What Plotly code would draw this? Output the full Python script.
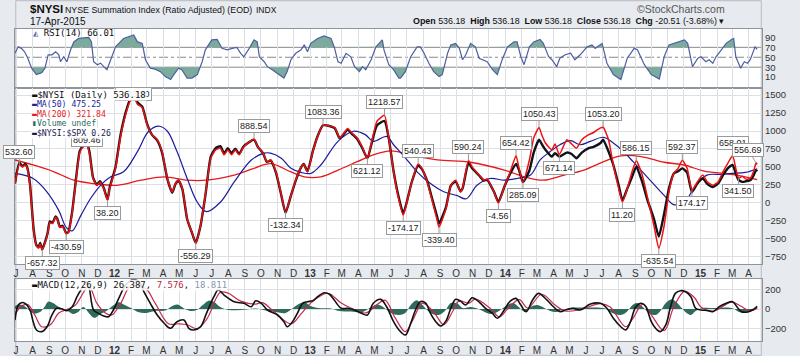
import plotly.graph_objects as go
import pandas as pd

# ---------------- DATA ----------------
nysi_dates = [
 "2011-06-29","2011-07-07","2011-07-13","2011-07-18","2011-07-22","2011-07-27","2011-08-03","2011-08-08","2011-08-12","2011-08-15",
 "2011-08-19","2011-08-24","2011-08-29","2011-09-02","2011-09-07","2011-09-13","2011-09-16","2011-09-21","2011-09-26","2011-10-03",
 "2011-10-07","2011-10-14","2011-10-20","2011-10-28","2011-11-04","2011-11-10","2011-11-15","2011-11-22","2011-11-29","2011-12-05",
 "2011-12-12","2011-12-19","2011-12-23","2012-01-03","2012-01-12","2012-01-22","2012-02-01","2012-02-06","2012-02-13","2012-02-22",
 "2012-03-02","2012-03-11","2012-03-21","2012-03-30","2012-04-09","2012-04-18","2012-04-24","2012-04-30","2012-05-07","2012-05-16",
 "2012-05-25","2012-06-01","2012-06-10","2012-06-19","2012-06-29","2012-07-08","2012-07-17","2012-07-24","2012-07-31","2012-08-07",
 "2012-08-14","2012-08-21","2012-08-30","2012-09-18","2012-09-25","2012-10-05","2012-10-12","2012-10-19","2012-10-29","2012-11-07",
 "2012-11-16","2012-11-26","2012-12-05","2012-12-14","2012-12-20","2012-12-27","2013-01-06","2013-01-15","2013-01-25","2013-02-06",
 "2013-02-16","2013-02-25","2013-03-03","2013-03-12","2013-03-20","2013-03-30","2013-04-08","2013-04-18","2013-04-27","2013-05-06",
 "2013-05-20","2013-05-28","2013-06-06","2013-06-14","2013-06-24","2013-07-01","2013-07-10","2013-07-22","2013-07-29","2013-08-08",
 "2013-08-17","2013-08-26","2013-08-30","2013-09-12","2013-09-21","2013-09-30","2013-10-09","2013-10-13","2013-10-24","2013-10-31",
 "2013-11-13","2013-11-22","2013-11-28","2013-12-11","2013-12-19","2013-12-30","2014-01-09","2014-01-21","2014-01-26","2014-02-03",
 "2014-02-15","2014-02-23","2014-03-05","2014-03-10","2014-03-17","2014-03-29","2014-04-04","2014-04-12","2014-04-26","2014-05-05",
 "2014-05-14","2014-05-24","2014-06-06","2014-06-15","2014-06-28","2014-07-03","2014-07-13","2014-07-22","2014-08-01","2014-08-08",
 "2014-08-17","2014-08-26","2014-09-03","2014-09-14","2014-09-23","2014-10-06","2014-10-15","2014-10-25","2014-11-03","2014-11-12",
 "2014-11-20","2014-11-28","2014-12-07","2014-12-16","2014-12-26","2015-01-05","2015-01-14","2015-01-24","2015-02-03","2015-02-12",
 "2015-02-21","2015-03-02","2015-03-08","2015-03-13","2015-03-20","2015-03-27","2015-04-04","2015-04-10","2015-04-15","2015-04-17"]
nysi_vals = [
 270, 532.60, 500, 527, 480, 244, -400, -600, -630, -575,
 -657.32, -560, -434, -274, -290, -203, -230, -345, -330, -430.59,
 -415, -133, 244, 700, 785, 809.46, 700, 339, 244, 291,
 198, 38.20, 198, 480, 904, 1233, 1444, 1483.30, 1374, 1327,
 1091, 950, 880, 714, 339, 150, 268, 315, 198, -226,
 -415, -556.29, -320, 103, 621, 738, 762, 668, 738, 668,
 738, 668, 785, 888.54, 780, 692, 573, 597, 432, 150,
 -132.34, 103, 315, 480, 536, 432, 714, 926, 1083.36, 1070,
 1050, 904, 950, 1035, 974, 904, 785, 621.12, 880, 1138,
 1218.57, 904, 432, 103, -174.17, 8, 291, 540.43, 480, 291,
 32, -226, -339.40, -85, 244, 315, 150, 200, 590.24, 500,
 386, 315, 330, 150, -4.56, 220, 409, 654.42, 500, 285.09,
 597, 904, 1050.43, 950, 833, 738, 820, 671.14, 880, 820,
 762, 880, 950, 980, 1045, 1053.20, 880, 527, 198, 11.20,
 198, 432, 586.15, 386, 103, -320, -635.54, -320, 150, 409,
 480, 592.37, 480, 174.17, 290, 386, 290, 244, 290, 432,
 551, 658.01, 480, 341.50, 370, 330, 340, 432, 556.69, 536.18]
ratio_vals = [
 270, 560, 510, 540, 490, 260, -380, -590, -620, -560,
 -650, -550, -420, -260, -280, -190, -220, -335, -320, -425,
 -405, -120, 260, 720, 800, 830, 720, 350, 250, 300,
 205, 45, 210, 500, 930, 1260, 1470, 1500, 1400, 1340,
 1100, 950, 870, 700, 330, 140, 260, 310, 190, -230,
 -420, -560, -320, 100, 640, 760, 790, 690, 760, 690,
 755, 680, 790, 880, 780, 690, 570, 590, 420, 140,
 -140, 100, 310, 480, 540, 440, 720, 930, 1080, 1070,
 1040, 900, 940, 1020, 960, 890, 770, 620, 860, 1080,
 1140, 900, 440, 130, -150, 20, 290, 520, 470, 300,
 60, -180, -290, -60, 240, 300, 160, 200, 560, 480,
 380, 310, 320, 150, 10, 220, 390, 540, 470, 290,
 450, 700, 880, 820, 740, 644, 691, 644, 700, 680,
 621, 700, 762, 780, 833, 880, 714, 527, 244, 32,
 198, 362, 503, 291, 56, -226, -470, -150, 200, 409,
 440, 480, 420, 150, 270, 339, 260, 220, 270, 386,
 480, 527, 409, 320, 291, 300, 315, 380, 456, 440]

ma50_dates = [
 "2011-06-29","2011-08-02","2011-08-28","2011-09-19","2011-10-03","2011-10-14","2011-10-30","2011-11-17","2011-12-06","2011-12-25",
 "2012-01-18","2012-02-13","2012-03-05","2012-03-25","2012-04-09","2012-04-27","2012-05-16","2012-06-04","2012-06-21","2012-07-17",
 "2012-08-12","2012-09-13","2012-10-07","2012-10-19","2012-11-08","2012-11-26","2012-12-15","2013-01-02","2013-01-21","2013-02-22",
 "2013-03-23","2013-04-14","2013-04-29","2013-05-24","2013-06-06","2013-06-26","2013-07-20","2013-08-14","2013-09-09","2013-10-02",
 "2013-10-20","2013-11-09","2013-12-03","2013-12-30","2014-01-23","2014-02-17","2014-03-07","2014-03-26","2014-04-13","2014-05-03",
 "2014-05-21","2014-06-09","2014-07-04","2014-07-22","2014-08-10","2014-08-28","2014-09-23","2014-10-25","2014-11-13","2014-12-04",
 "2014-12-23","2015-01-13","2015-02-09","2015-02-28","2015-03-26","2015-04-17"]
ma50_vals = [
 409, 339, 150, -109, -345, -391, -179, 56, 244, 362,
 432, 714, 997, 1067, 997, 714, 339, 8, -123, 8,
 291, 597, 692, 692, 621, 480, 424, 409, 527, 856,
 997, 950, 856, 926, 809, 644, 432, 268, 150, 103,
 56, 244, 339, 315, 339, 386, 597, 714, 809, 866,
 809, 856, 913, 833, 714, 573, 362, 103, -28, 32,
 244, 386, 395, 409, 424, 475.25]

ma200_dates = [
 "2011-06-29","2011-08-02","2011-09-10","2011-10-17","2011-11-23","2012-01-06","2012-02-20","2012-04-03","2012-05-16","2012-06-21",
 "2012-08-12","2012-09-18","2012-10-19","2012-11-26","2012-12-21","2013-01-21","2013-02-22","2013-03-30","2013-04-29","2013-06-01",
 "2013-07-08","2013-08-27","2013-10-28","2013-12-30","2014-02-06","2014-03-13","2014-04-21","2014-05-28","2014-07-04","2014-08-05",
 "2014-09-12","2014-10-25","2014-12-01","2015-01-08","2015-02-14","2015-03-26","2015-04-17"]
ma200_vals = [
 597, 527, 432, 315, 268, 244, 315, 362, 315, 315,
 386, 480, 545, 430, 362, 362, 456, 573, 668, 724,
 668, 597, 565, 456, 362, 315, 386, 456, 573, 654,
 644, 565, 527, 442, 409, 362, 321.84]

rsi_dates = [
 "2011-06-29","2011-07-05","2011-07-11","2011-07-17","2011-07-23","2011-07-30","2011-08-08","2011-08-18","2011-08-24","2011-08-30",
 "2011-09-06","2011-09-13","2011-09-19","2011-09-22","2011-09-28","2011-10-04","2011-10-11","2011-10-17","2011-10-26","2011-11-14",
 "2011-11-19","2011-11-23","2011-11-30","2011-12-06","2011-12-12","2011-12-18","2011-12-25","2012-01-03","2012-01-18","2012-02-06",
 "2012-02-13","2012-02-22","2012-02-28","2012-03-08","2012-03-17","2012-03-27","2012-04-05","2012-04-15","2012-04-21","2012-04-30",
 "2012-05-06","2012-05-16","2012-05-25","2012-06-04","2012-06-13","2012-06-19","2012-07-01","2012-07-11","2012-07-20","2012-07-30",
 "2012-08-08","2012-08-17","2012-08-24","2012-08-30","2012-09-09","2012-09-18","2012-09-24","2012-09-28","2012-10-07","2012-10-13",
 "2012-10-22","2012-11-04","2012-11-13","2012-11-19","2012-11-26","2012-12-05","2012-12-15","2012-12-21","2012-12-27","2013-01-02",
 "2013-01-15","2013-01-27","2013-02-09","2013-02-15","2013-02-22","2013-02-28","2013-03-09","2013-03-18","2013-03-25","2013-04-03",
 "2013-04-09","2013-04-15","2013-04-25","2013-05-04","2013-05-16","2013-05-19","2013-05-28","2013-06-06","2013-06-16","2013-06-19",
 "2013-06-28","2013-07-08","2013-07-20","2013-07-26","2013-08-02","2013-08-11","2013-08-20","2013-08-30","2013-09-05","2013-09-15",
 "2013-09-21","2013-09-30","2013-10-07","2013-10-13","2013-10-19","2013-10-28","2013-11-06","2013-11-13","2013-11-19","2013-11-28",
 "2013-12-08","2013-12-17","2013-12-26","2014-01-05","2014-01-17","2014-01-23","2014-01-30","2014-02-05","2014-02-15","2014-02-23",
 "2014-03-07","2014-03-13","2014-03-23","2014-03-29","2014-04-07","2014-04-13","2014-04-23","2014-05-03","2014-05-11","2014-05-21",
 "2014-06-03","2014-06-12","2014-06-18","2014-07-01","2014-07-10","2014-07-22","2014-08-05","2014-08-17","2014-08-30","2014-09-05",
 "2014-09-18","2014-10-01","2014-10-16","2014-10-25","2014-11-03","2014-11-19","2014-12-02","2014-12-08","2014-12-17","2014-12-27",
 "2015-01-02","2015-01-11","2015-01-17","2015-01-24","2015-01-30","2015-02-09","2015-02-18","2015-02-28","2015-03-04","2015-03-08",
 "2015-03-17","2015-03-24","2015-03-30","2015-04-04","2015-04-13","2015-04-17"]
rsi_vals = [
 58, 71, 68, 61, 48, 28, 15, 19, 28, 55,
 55, 61, 55, 41, 51, 41, 65, 81, 88, 90,
 81, 41, 35, 38, 31, 25, 45, 71, 88, 95,
 81, 78, 45, 28, 26, 21, 11, 5, 15, 28,
 25, 8, 8, 15, 41, 65, 85, 86, 68, 65,
 68, 70, 58, 51, 68, 85, 81, 51, 41, 31,
 25, 15, 8, 21, 45, 58, 65, 75, 61, 78,
 88, 93, 88, 71, 41, 38, 58, 51, 31, 21,
 31, 25, 45, 71, 85, 65, 35, 25, 8, 8,
 21, 51, 71, 71, 58, 38, 21, 11, 15, 58,
 75, 78, 68, 45, 55, 78, 71, 48, 45, 41,
 25, 15, 45, 71, 81, 81, 51, 35, 71, 81,
 86, 78, 51, 45, 31, 48, 55, 58, 45, 55,
 71, 75, 68, 78, 38, 15, 5, 48, 68, 65,
 35, 15, 6, 51, 75, 81, 85, 78, 31, 48,
 51, 41, 45, 38, 51, 65, 78, 86, 88, 51,
 28, 41, 38, 45, 71, 66.01]

macd_dates = [
 "2011-06-29","2011-07-05","2011-07-11","2011-07-17","2011-07-27","2011-08-02","2011-08-08","2011-08-18","2011-08-28","2011-09-06",
 "2011-09-15","2011-09-25","2011-10-04","2011-10-14","2011-10-23","2011-10-30","2011-11-08","2011-11-14","2011-11-23","2011-12-02",
 "2011-12-12","2011-12-21","2011-12-30","2012-01-09","2012-01-22","2012-02-05","2012-02-17","2012-02-25","2012-03-08","2012-03-21",
 "2012-04-03","2012-04-15","2012-04-27","2012-05-10","2012-05-19","2012-05-28","2012-06-10","2012-06-21","2012-07-05","2012-07-13",
 "2012-07-24","2012-08-12","2012-08-30","2012-09-13","2012-09-21","2012-10-01","2012-10-13","2012-11-01","2012-11-13","2012-11-19",
 "2012-11-29","2012-12-08","2012-12-18","2012-12-27","2013-01-06","2013-01-15","2013-01-27","2013-02-06","2013-02-15","2013-02-28",
 "2013-03-12","2013-03-25","2013-04-07","2013-04-18","2013-04-29","2013-05-13","2013-05-24","2013-06-06","2013-06-16","2013-06-28",
 "2013-07-08","2013-07-17","2013-07-26","2013-08-05","2013-08-14","2013-08-24","2013-09-02","2013-09-12","2013-09-21","2013-09-30",
 "2013-10-09","2013-10-19","2013-10-31","2013-11-13","2013-11-25","2013-12-08","2013-12-17","2013-12-30","2014-01-09","2014-01-21",
 "2014-01-30","2014-02-09","2014-02-21","2014-03-04","2014-03-20","2014-04-01","2014-04-13","2014-04-26","2014-05-08","2014-05-21",
 "2014-06-09","2014-06-28","2014-07-10","2014-07-22","2014-08-05","2014-08-14","2014-08-23","2014-09-02","2014-09-12","2014-09-20",
 "2014-10-01","2014-10-09","2014-10-18","2014-10-28","2014-11-06","2014-11-15","2014-11-25","2014-12-04","2014-12-14","2014-12-23",
 "2015-01-02","2015-01-13","2015-01-24","2015-02-05","2015-02-18","2015-03-02","2015-03-10","2015-03-19","2015-04-01","2015-04-10",
 "2015-04-17"]
macd_vals = [
 -112, 41, 64, 60, -10, -129, -213, -230, -180, -61,
 7, 0, -17, 23, 125, 193, 280, 230, -10, -44,
 -71, -78, -10, 108, 244, 300, 270, 176, 58, -61,
 -145, -196, -129, -112, -196, -213, -180, -44, 125, 193,
 142, 74, 58, 23, 84, 60, -10, -61, -129, -180,
 -129, -44, 58, 74, 85, 125, 165, 150, 91, 7,
 7, -10, -44, -61, 58, 98, 23, -129, -213, -264,
 -145, -10, 74, 60, -44, -129, -173, -120, 7, 98,
 80, 41, 115, 70, 7, -44, -94, -10, 74, 108,
 41, -27, 91, 159, 91, 23, -27, -5, 7, -10,
 51, 58, 7, -94, -180, -213, -129, 23, 58, 30,
 -129, -196, -230, -162, 23, 159, 186, 175, 125, 7,
 -10, -15, -27, 23, 58, 74, 23, -27, -27, -3,
 26.387]

signal_dates = [
 "2011-06-29","2011-07-11","2011-07-23","2011-08-05","2011-08-18","2011-09-03","2011-09-19","2011-10-04","2011-10-20","2011-11-14",
 "2011-11-29","2011-12-15","2011-12-27","2012-01-13","2012-02-01","2012-02-28","2012-03-17","2012-04-11","2012-04-30","2012-05-16",
 "2012-06-04","2012-06-22","2012-07-17","2012-08-01","2012-08-24","2012-09-21","2012-10-04","2012-10-22","2012-11-26","2012-12-15",
 "2013-01-02","2013-02-03","2013-02-28","2013-03-18","2013-04-15","2013-05-05","2013-05-21","2013-06-09","2013-06-28","2013-07-13",
 "2013-07-30","2013-08-20","2013-09-08","2013-09-25","2013-10-06","2013-10-25","2013-11-06","2013-12-03","2013-12-21","2014-01-05",
 "2014-01-27","2014-02-12","2014-03-10","2014-04-04","2014-04-23","2014-05-21","2014-06-28","2014-07-16","2014-08-14","2014-08-27",
 "2014-09-15","2014-10-01","2014-10-25","2014-11-12","2014-12-02","2014-12-20","2015-01-02","2015-01-25","2015-02-28","2015-03-17",
 "2015-04-04","2015-04-17"]
signal_vals = [
 -60, 30, 45, -60, -180, -160, -40, -5, 40, 230,
 60, -40, -60, 60, 240, 210, 60, -150, -150, -160,
 -200, -100, 170, 160, 80, 50, 65, -10, -150, -50,
 60, 160, 60, 10, -40, 40, 90, -90, -230, -100,
 60, -30, -160, -20, 80, 60, 100, 10, -80, 0,
 95, 10, 150, 40, -20, -5, 55, 20, -180, -100,
 50, -60, -220, 20, 180, 120, 20, -20, 70, 30,
 -20, 7.576]

hist_dates = [
 "2011-06-29","2011-07-08","2011-07-19","2011-07-27","2011-08-03","2011-08-15","2011-08-23","2011-08-30","2011-09-08","2011-09-19",
 "2011-09-28","2011-10-07","2011-10-16","2011-10-25","2011-11-04","2011-11-14","2011-11-24","2011-12-06","2011-12-17","2011-12-28",
 "2012-01-09","2012-01-20","2012-02-01","2012-02-14","2012-02-28","2012-03-17","2012-04-05","2012-04-18","2012-04-28","2012-05-09",
 "2012-05-22","2012-06-03","2012-06-14","2012-06-25","2012-07-06","2012-07-17","2012-08-02","2012-08-24","2012-09-21","2012-10-10",
 "2012-10-29","2012-11-16","2012-11-30","2012-12-11","2012-12-22","2013-01-02","2013-01-17","2013-02-09","2013-02-24","2013-03-18",
 "2013-04-09","2013-04-25","2013-05-07","2013-05-20","2013-06-01","2013-06-16","2013-06-28","2013-07-08","2013-07-19","2013-07-30",
 "2013-08-14","2013-08-29","2013-09-10","2013-09-21","2013-10-02","2013-10-13","2013-10-28","2013-11-12","2013-11-27","2013-12-08",
 "2013-12-20","2014-01-02","2014-01-15","2014-01-26","2014-02-07","2014-02-17","2014-03-02","2014-03-15","2014-03-26","2014-04-06",
 "2014-04-17","2014-05-02","2014-05-21","2014-06-18","2014-07-07","2014-07-20","2014-08-05","2014-08-16","2014-08-27","2014-09-05",
 "2014-09-17","2014-09-26","2014-10-09","2014-10-18","2014-10-28","2014-11-08","2014-11-17","2014-11-27","2014-12-06","2014-12-14",
 "2014-12-23","2015-01-05","2015-01-30","2015-02-18","2015-03-03","2015-03-14","2015-03-25","2015-04-04","2015-04-17"]
hist_vals = [
 30, 45, 20, -20, -45, -30, 20, 75, 60, 20,
 0, -25, -50, -30, 20, -40, -90, -50, -20, 30,
 70, 40, 10, -30, -40, -20, -15, 30, 45, 10,
 -20, -10, 40, 85, 70, 20, -10, -10, 5, -15,
 -30, -40, 10, 50, 70, 30, 10, 5, -20, -25,
 -30, 20, 45, 10, -40, -60, -40, 40, 90, 40,
 -40, -60, -20, 60, 60, 10, 20, 0, -40, -50,
 -20, 30, 60, 20, -30, 20, 40, 10, -20, -30,
 -10, 10, 15, 15, 5, -40, -60, -30, 40, 60,
 10, -40, -60, -20, 60, 100, 70, 10, -40, -60,
 -20, 10, 10, 15, 5, -30, -40, -15, 18.811]

month_labels = ["J","A","S","O","N","D",
                "<b>12</b>","F","M","A","M","J","J","A","S","O","N","D",
                "<b>13</b>","F","M","A","M","J","J","A","S","O","N","D",
                "<b>14</b>","F","M","A","M","J","J","A","S","O","N","D",
                "<b>15</b>","F","M","A"]
month_ticks = [d.strftime("%Y-%m-%d") for d in pd.date_range("2011-07-01", "2015-04-01", freq="MS")]

label_dates = ["2011-07-07","2011-08-19","2011-10-03","2011-11-10","2011-12-19","2012-02-06","2012-06-01","2012-09-18",
               "2012-11-16","2013-01-25","2013-04-18","2013-05-20","2013-06-24","2013-07-22","2013-08-30","2013-10-24",
               "2013-12-19","2014-01-21","2014-02-03","2014-03-05","2014-04-12","2014-07-03","2014-08-08","2014-09-03",
               "2014-10-15","2014-11-28","2014-12-16","2015-03-02","2015-03-13","2015-04-15"]
label_sides = ["a","b","b","a","b","a","b","a",
               "b","a","b","a","b","a","b","a",
               "b","a","b","a","b","a","b","a",
               "b","a","b","a","b","a"]

main_ticks = [-750, -500, -250, 0, 250, 500, 750, 1000, 1250, 1500]
rsi_ticks = [10, 30, 50, 70, 90]
macd_ticks = [-200, 0, 200]

# ---------------- HELPERS ----------------
def band(dates, vals, level, above):
    t = pd.to_datetime(dates)
    xs, ys = [], []
    for i in range(len(vals)):
        if i > 0:
            v0, v1 = vals[i - 1], vals[i]
            if (v0 - level) * (v1 - level) < 0:
                f = (level - v0) / (v1 - v0)
                xs.append(t[i - 1] + (t[i] - t[i - 1]) * f)
                ys.append(level)
        xs.append(t[i])
        ys.append(max(vals[i], level) if above else min(vals[i], level))
    return xs, ys

W, H = 800, 356
def px(x):
    return x / W
def py(y):
    return 1 - y / H

fig = go.Figure()

# RSI fills
FILL = "#7aab9c"
for level, above in [(70, True), (30, False)]:
    xs, ys = band(rsi_dates, rsi_vals, level, above)
    fig.add_trace(go.Scatter(x=xs, y=[level] * len(xs), mode="lines", line=dict(width=0),
                             xaxis="x", yaxis="y", hoverinfo="skip", showlegend=False))
    fig.add_trace(go.Scatter(x=xs, y=ys, mode="lines", line=dict(width=0), fill="tonexty",
                             fillcolor=FILL, xaxis="x", yaxis="y", hoverinfo="skip", showlegend=False))
fig.add_trace(go.Scatter(x=rsi_dates, y=rsi_vals, mode="lines", line=dict(color="#4e5fa0", width=1.2),
                         xaxis="x", yaxis="y", showlegend=False))

# Main panel
fig.add_trace(go.Scatter(x=ma200_dates, y=ma200_vals, mode="lines", line=dict(color="#e8191c", width=1.3, shape="spline"),
                         xaxis="x2", yaxis="y2", showlegend=False))
fig.add_trace(go.Scatter(x=ma50_dates, y=ma50_vals, mode="lines", line=dict(color="#1c1c9c", width=1.2, shape="spline"),
                         xaxis="x2", yaxis="y2", showlegend=False))
fig.add_trace(go.Scatter(x=nysi_dates, y=ratio_vals, mode="lines",
                         line=dict(color="#111118", width=2.4, shape="spline", smoothing=0.5),
                         xaxis="x2", yaxis="y2", showlegend=False))
fig.add_trace(go.Scatter(x=nysi_dates, y=nysi_vals, mode="lines",
                         line=dict(color="#ee1111", width=1.5, shape="spline", smoothing=0.5),
                         xaxis="x2", yaxis="y2", showlegend=False))

# MACD panel
fig.add_trace(go.Scatter(x=hist_dates, y=hist_vals, mode="lines", line=dict(width=0, color="#2e6b5c", shape="spline"),
                         fill="tozeroy", fillcolor="#2e6b5c", xaxis="x3", yaxis="y3", showlegend=False))
fig.add_trace(go.Scatter(x=signal_dates, y=signal_vals, mode="lines", line=dict(color="#c8284a", width=1.2, shape="spline"),
                         xaxis="x3", yaxis="y3", showlegend=False))
fig.add_trace(go.Scatter(x=macd_dates, y=macd_vals, mode="lines", line=dict(color="#111111", width=1.6, shape="spline"),
                         xaxis="x3", yaxis="y3", showlegend=False))

# ---------------- LAYOUT ----------------
xr = ["2011-06-29", "2015-04-26"]
GRID = "#dcdfe3"
LINE = "#8f949a"
tickfont = dict(family="Liberation Sans, Arial", size=10, color="#333")
common_x = dict(range=xr, type="date", tickvals=month_ticks, ticktext=month_labels, showgrid=True,
                gridcolor=GRID, gridwidth=1, showline=True, mirror=True, linecolor=LINE, linewidth=1,
                ticks="", ticklen=0, tickfont=tickfont, zeroline=False, tickangle=0)

rsi_dom = [py(88), py(29)]
main_dom = [py(264), py(88)]
macd_dom = [py(341), py(279)]
yfont = dict(family="Liberation Sans, Arial", size=9.5, color="#333")

fig.update_layout(
    width=W, height=H, autosize=False,
    margin=dict(l=15, r=38, t=0, b=0),
    paper_bgcolor="#e7eaef", plot_bgcolor="white",
    showlegend=False,
    xaxis=dict(**common_x, domain=[0, 1], anchor="y", showticklabels=False),
    xaxis2=dict(**common_x, domain=[0, 1], anchor="y2", matches="x", showticklabels=True),
    xaxis3=dict(**common_x, domain=[0, 1], anchor="y3", matches="x", showticklabels=True),
    yaxis=dict(domain=rsi_dom, range=[-12, 107], tickvals=rsi_ticks, side="right", showgrid=False,
               showline=True, mirror=True, linecolor=LINE, ticks="", zeroline=False, tickfont=yfont, anchor="x"),
    yaxis2=dict(domain=main_dom, range=[-853, 1600], tickvals=main_ticks, side="right", showgrid=True,
                gridcolor=GRID, showline=True, mirror=True, linecolor=LINE, ticks="", zeroline=False,
                tickfont=yfont, anchor="x2"),
    yaxis3=dict(domain=macd_dom, range=[-325, 305], tickvals=macd_ticks, side="right", showgrid=True,
                gridcolor=GRID, showline=True, mirror=True, linecolor=LINE, ticks="", zeroline=False,
                tickfont=yfont, anchor="x3"),
)

# RSI reference lines
shapes = []
for lvl, dash in [(70, "solid"), (30, "solid"), (50, "dashdot")]:
    shapes.append(dict(type="line", xref="x domain", yref="y", x0=0, x1=1, y0=lvl, y1=lvl,
                       line=dict(color="#8a8a8a", width=1, dash=dash), layer="below"))
# outer frame
shapes.append(dict(type="rect", xref="paper", yref="paper", x0=0.001, x1=0.999, y0=0.002, y1=0.998,
                   line=dict(color="#b8bcc2", width=1), layer="below"))
fig.update_layout(shapes=shapes)

ann = []
# peak / trough labels on the NYSI line
val_by_date = dict(zip(nysi_dates, nysi_vals))
special_ay = {"2012-02-06": -2, "2011-11-10": -5}
for i, (d, s) in enumerate(zip(label_dates, label_sides)):
    v = val_by_date[d]
    ay = special_ay.get(d, -13 if s == "a" else 13)
    ann.append(dict(x=d, y=v, xref="x2", yref="y2", text=f"{v:.2f}", showarrow=True,
                    arrowhead=0, arrowwidth=1, arrowcolor="#9a9a9a",
                    ax=(-8 if i == len(label_dates) - 1 else 0), ay=ay,
                    font=dict(family="Liberation Sans, Arial", size=9, color="#222"),
                    bgcolor="white", bordercolor="#9a9a9a", borderwidth=1, borderpad=1))

mono = "DejaVu Sans Mono, monospace"
sans = "Liberation Sans, Arial"
# header
ann.append(dict(x=px(14), y=py(9), xref="paper", yref="paper", xanchor="left", yanchor="middle", showarrow=False,
                text="<b>$NYSI</b>", font=dict(family=sans, size=11.5, color="#111")))
ann.append(dict(x=px(51), y=py(9.5), xref="paper", yref="paper", xanchor="left", yanchor="middle", showarrow=False,
                text="NYSE Summation Index (Ratio Adjusted) (EOD)", font=dict(family=sans, size=8.8, color="#111")))
ann.append(dict(x=px(256), y=py(9.5), xref="paper", yref="paper", xanchor="left", yanchor="middle", showarrow=False,
                text="INDX", font=dict(family=sans, size=8.5, color="#111")))
ann.append(dict(x=px(14), y=py(21.5), xref="paper", yref="paper", xanchor="left", yanchor="middle", showarrow=False,
                text="17-Apr-2015", font=dict(family=sans, size=10, color="#111")))
ann.append(dict(x=px(762), y=py(9), xref="paper", yref="paper", xanchor="right", yanchor="middle", showarrow=False,
                text="©StockCharts.com", font=dict(family=sans, size=10.5, color="#555")))
ann.append(dict(x=px(761), y=py(21), xref="paper", yref="paper", xanchor="right", yanchor="middle", showarrow=False,
                text="<b>Open</b> 536.18  <b>High</b> 536.18  <b>Low</b> 536.18  <b>Close</b> 536.18  <b>Chg</b> -20.51 (-3.68%) ▾",
                font=dict(family=sans, size=8.9, color="#111")))

# RSI legend
ann.append(dict(x=px(17), y=py(33.5), xref="paper", yref="paper", xanchor="left", yanchor="middle", showarrow=False,
                text="<span style='color:#4e5fa0'>◭</span> RSI(14) 66.01", font=dict(family=mono, size=9, color="#111")))

# main legend
leg = [("$NYSI (Daily) 536.18", "#111111", 9),
       ("MA(50) 475.25", "#1c1c9c", 8.2),
       ("MA(200) 321.84", "#e8191c", 8.2),
       ("Volume undef", "#2e6b5c", 8.2),
       ("$NYSI:$SPX 0.26", "#1a1a50", 8.2)]
for i, (t, c, fs) in enumerate(leg):
    mark = "▮" if t.startswith("Volume") else "▬"
    ann.append(dict(x=px(17), y=py(95 + i * 9.4), xref="paper", yref="paper", xanchor="left", yanchor="middle",
                    showarrow=False, text=f"<span style='color:{c}'>{mark}{t}</span>",
                    font=dict(family=mono, size=fs), bgcolor="rgba(255,255,255,0.9)", borderpad=0))

# MACD legend
ann.append(dict(x=px(17), y=py(285), xref="paper", yref="paper", xanchor="left", yanchor="middle", showarrow=False,
                text="▬MACD(12,26,9) 26.387, <span style='color:#b8283e'>7.576</span>, <span style='color:#8a96ad'>18.811</span>",
                font=dict(family=mono, size=9, color="#111"), bgcolor="rgba(255,255,255,0.85)", borderpad=0))

fig.update_layout(annotations=ann)
fig.write_html("out.html", config={"displayModeBar": False},
               post_script="document.body.style.margin='0';document.body.style.overflow='hidden';")
